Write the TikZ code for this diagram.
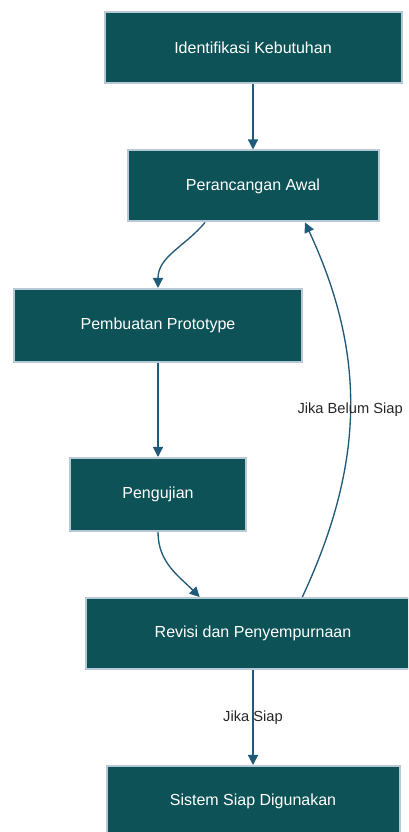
\documentclass[tikz,border=0pt]{standalone}
\usepackage{fontspec}
\setmainfont{Liberation Sans}
\usetikzlibrary{arrows.meta}
\definecolor{boxfill}{HTML}{0D5257}
\definecolor{boxline}{HTML}{B7C9D6}
\definecolor{flowline}{HTML}{1F5A78}

\begin{document}
\begin{tikzpicture}[x=0.75pt, y=0.75pt,
  stage/.style={draw=boxline, line width=1.5pt, fill=boxfill, text=white, minimum height=53.25pt, font=\fontsize{12}{14}\selectfont},
  flow/.style={-{Triangle[length=7.5pt, width=7.5pt]}, line width=1pt, flowline},
  cond/.style={font=\fontsize{11}{13}\selectfont, text=black!85}]
\path [use as bounding box, clip] (0, 0) rectangle (408, 832);

\node [stage, minimum width=222.75pt] (ident) at (253, 784.5) {Identifikasi Kebutuhan};
\node [stage, minimum width=188.25pt] (rancang) at (253, 646) {Perancangan Awal};
\node [stage, minimum width=216pt, minimum height=54.75pt] (proto) at (158, 506.5) {Pembuatan Prototype};
\node [stage, minimum width=132pt, minimum height=54.75pt] (uji) at (158, 337.5) {Pengujian};
\node [stage, minimum width=250.5pt] (revisi) at (253, 198.5) {Revisi dan Penyempurnaan};
\node [stage, minimum width=219.75pt] (sistem) at (253, 30.5) {Sistem Siap Digunakan};

\draw [flow] (ident) -- (rancang);
\draw [flow] ([xshift=-36pt]rancang.south) to[out=-130, in=90] (proto.north);
\draw [flow] (proto) -- (uji);
\draw [flow] (uji.south) to[out=-90, in=135] ([xshift=-40pt]revisi.north);
\draw [flow] ([xshift=37pt]revisi.north) to[out=65, in=-65] node [cond] {Jika Belum Siap} ([xshift=39pt]rancang.south);
\draw [flow] (revisi) -- node [cond] {Jika Siap} (sistem);
\end{tikzpicture}
\end{document}
